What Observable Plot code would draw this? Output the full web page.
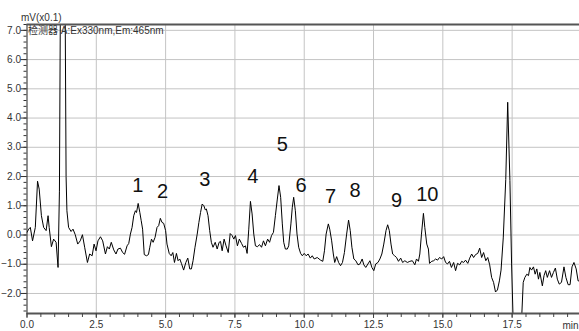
<!DOCTYPE html>
<html>
<head>
<meta charset="utf-8">
<script src="https://cdn.jsdelivr.net/npm/d3@7"></script>
<script src="https://cdn.jsdelivr.net/npm/@observablehq/plot@0.6"></script>
<style>
  html, body { margin: 0; padding: 0; background: white; overflow: hidden; }
  #chart svg { display: block; }
</style>
</head>
<body>
<div id="chart"></div>
<script>
// retention time (min)
const time = [
  0.00,0.06,0.12,0.20,0.30,0.38,0.44,0.52,0.60,0.69,0.76,0.80,0.88,0.96,1.05,1.12,1.17,1.20,1.22,1.29,
  1.37,1.38,1.41,1.44,1.50,1.59,1.66,1.74,1.83,1.92,2.00,2.08,2.18,2.26,2.35,2.42,2.49,2.56,2.65,2.73,
  2.83,2.90,2.97,3.04,3.13,3.21,3.28,3.37,3.45,3.52,3.61,3.67,3.73,3.79,3.85,3.91,3.95,4.01,4.07,4.12,
  4.17,4.23,4.31,4.38,4.43,4.49,4.55,4.62,4.69,4.75,4.81,4.87,4.93,5.00,5.05,5.13,5.20,5.26,5.32,5.39,
  5.45,5.51,5.57,5.65,5.73,5.80,5.87,5.93,5.99,6.06,6.14,6.20,6.26,6.32,6.38,6.43,6.47,6.53,6.59,6.65,
  6.71,6.79,6.86,6.93,6.98,7.04,7.11,7.18,7.26,7.33,7.40,7.46,7.52,7.59,7.66,7.74,7.81,7.88,7.94,8.00,
  8.06,8.12,8.18,8.24,8.31,8.39,8.46,8.53,8.60,8.68,8.75,8.82,8.89,8.96,9.03,9.09,9.15,9.21,9.26,9.32,
  9.39,9.44,9.52,9.57,9.62,9.68,9.74,9.80,9.87,9.93,10.00,10.07,10.14,10.22,10.29,10.36,10.47,10.59,10.67,10.73,
  10.79,10.87,10.92,10.99,11.05,11.10,11.17,11.24,11.31,11.38,11.45,11.53,11.60,11.66,11.72,11.79,11.86,11.94,12.01,12.09,
  12.15,12.22,12.30,12.37,12.44,12.51,12.58,12.66,12.73,12.80,12.87,12.95,13.01,13.07,13.13,13.19,13.26,13.33,13.40,13.48,
  13.55,13.63,13.72,13.81,13.90,13.99,14.05,14.12,14.17,14.23,14.30,14.35,14.42,14.48,14.52,14.60,14.67,14.74,14.81,14.88,
  14.96,15.03,15.10,15.17,15.24,15.31,15.39,15.46,15.53,15.61,15.68,15.75,15.82,15.90,15.97,16.04,16.11,16.18,16.26,16.33,
  16.40,16.47,16.55,16.62,16.69,16.76,16.83,16.90,16.97,17.04,17.10,17.18,17.27,17.34,17.42,17.48,17.53,17.60,17.80,17.85,
  17.90,17.96,18.03,18.09,18.14,18.20,18.27,18.33,18.39,18.45,18.50,18.59,18.65,18.71,18.77,18.85,18.92,18.99,19.06,19.13,
  19.20,19.28,19.37,19.44,19.52,19.59,19.66,19.73,19.81,19.88,19.94
];
// detector signal, mV (x0.1)
const signal = [
  0.09,0.20,0.26,-0.20,0.26,1.84,1.57,0.66,0.26,0.15,0.66,0.26,-0.40,-0.14,-0.25,-1.11,1.50,7.20,12.0,14.0,
  12.0,7.20,2.00,0.83,0.26,0.12,0.20,0.01,-0.31,-0.20,0.01,-0.42,-0.94,-0.65,-0.71,-0.31,-0.54,-0.20,-0.06,-0.20,
  -0.65,-0.40,-0.48,-0.25,-0.51,-0.65,-0.48,-0.45,-0.60,-0.66,-0.37,-0.29,0.03,0.26,0.66,0.83,0.77,1.08,0.77,0.49,
  0.20,-0.67,-0.71,-0.67,-0.42,-0.14,-0.25,-0.08,0.26,0.32,0.57,0.43,0.40,0.15,-0.31,-0.63,-0.71,-0.60,-0.94,-0.63,
  -0.88,-0.82,-0.97,-1.20,-0.94,-0.79,-1.16,-1.16,-0.88,-0.42,0.03,0.43,0.77,1.06,1.00,0.86,0.89,0.66,0.15,-0.25,
  -0.42,-0.25,-0.48,-0.25,-0.22,-0.54,-0.14,-0.37,-0.60,0.05,-0.02,-0.14,-0.02,-0.37,-0.14,-0.29,-0.42,-0.37,-0.63,0.20,
  1.15,0.72,0.03,-0.37,-0.40,-0.33,-0.42,-0.20,-0.37,-0.14,-0.25,-0.02,0.09,0.66,1.23,1.69,1.29,0.38,-0.25,-0.48,
  -0.48,-0.37,0.38,0.95,1.29,0.83,0.03,-0.42,-0.63,-0.71,-0.63,-0.71,-0.65,-0.79,-0.71,-0.82,-0.77,-0.86,-0.90,-0.54,
  0.03,0.38,0.20,-0.20,-0.65,-0.94,-0.74,-0.94,-1.05,-0.94,-0.60,0.03,0.51,0.15,-0.42,-0.82,-0.88,-1.02,-0.99,-0.82,
  -1.02,-1.11,-0.99,-0.88,-1.11,-1.22,-0.99,-0.94,-0.82,-0.65,-0.31,0.15,0.35,0.15,-0.31,-0.65,-0.71,-0.77,-0.90,-0.79,
  -0.94,-0.88,-0.94,-0.90,-0.88,-1.02,-0.82,-0.90,-0.65,0.03,0.74,0.26,-0.31,-0.48,-0.97,-0.90,-0.88,-0.82,-0.86,-0.77,
  -0.82,-0.74,-0.94,-0.99,-0.90,-1.11,-0.94,-1.22,-0.97,-1.02,-0.90,-0.94,-0.86,-0.97,-0.79,-0.65,-0.77,-0.67,-0.63,-0.45,
  -0.77,-0.60,-0.88,-0.77,-1.02,-1.45,-1.62,-1.95,-1.88,-1.57,-1.20,-0.10,1.90,4.54,1.86,-0.99,-2.70,-4.50,-4.50,-2.70,
  -1.62,-1.45,-1.34,-1.39,-1.11,-1.20,-1.09,-1.34,-1.16,-1.51,-1.28,-1.74,-1.39,-1.22,-1.45,-1.22,-1.45,-1.28,-1.13,-1.51,
  -1.68,-1.62,-1.09,-1.45,-1.70,-1.70,-1.09,-0.94,-1.16,-1.57,-1.57
];
// peak annotations
const peakLabels = ["1","2","3","4","5","6","7","8","9","10"];
const peakX = [4.00, 4.89, 6.41, 8.15, 9.21, 9.89, 10.95, 11.83, 13.33, 14.44];
const peakY = [1.70, 1.50, 1.90, 2.01, 3.08, 1.69, 1.30, 1.51, 1.16, 1.37];
// axis ticks
const xTicks = [0, 2.5, 5.0, 7.5, 10.0, 12.5, 15.0, 17.5];
const xMinorTicks = d3.range(0, 20.01, 0.5).map(v => +v.toFixed(1));
const yTicks = [-2, -1, 0, 1, 2, 3, 4, 5, 6, 7];
const yMinorTicks = d3.range(-2.6, 7.21, 0.2).map(v => +v.toFixed(1));
const yUnit = "mV(x0.1)";
const detectorLabel = "检测器 A:Ex330nm,Em:465nm";
const xEndLabel = "min";

const trace = time.map((t, i) => ({t, v: signal[i]}));
const peaks = peakLabels.map((l, i) => ({l, x: peakX[i], y: peakY[i]}));

const font = "'Liberation Sans', Arial, 'Noto Sans CJK SC', sans-serif";
const yMin = -2.685, yMax = 7.2, xMax = 19.93;

const chart = Plot.plot({
  width: 579,
  height: 331,
  marginLeft: 26.5,
  marginRight: 0,
  marginTop: 24,
  marginBottom: 18,
  style: {fontFamily: font, fontSize: "10px", background: "white", color: "#333"},
  x: {domain: [0, xMax], axis: null},
  y: {domain: [yMin, yMax], axis: null},
  marks: [
    Plot.gridX(xTicks.filter(d => d > 0), {stroke: "#c4c4c4", strokeOpacity: 1, strokeWidth: 1}),
    Plot.gridY(yTicks, {stroke: "#c4c4c4", strokeOpacity: 1, strokeWidth: 1}),
    Plot.line(trace, {x: "t", y: "v", stroke: "#000", strokeWidth: 1, clip: true}),
    Plot.ruleX([0], {stroke: "#222", strokeWidth: 1}),
    Plot.ruleY([yMax], {stroke: "#555", strokeWidth: 2}),
    Plot.ruleY([yMin], {stroke: "#555", strokeWidth: 2}),
    Plot.axisY({ticks: yTicks, tickFormat: d3.format(".1f"), tickSize: 6, tickPadding: 0, stroke: "#333", fill: "#333", label: null}),
    Plot.axisY({ticks: yMinorTicks, tickSize: 3, text: null, stroke: "#333", label: null}),
    Plot.axisX({ticks: xMinorTicks, tickSize: 4, text: null, stroke: "#444", label: null}),
    Plot.axisX({ticks: xTicks, tickFormat: d3.format(".1f"), tickSize: 5, tickPadding: 2, stroke: "#444", fill: "#333", label: null}),
    Plot.text([xEndLabel], {x: xMax, y: yMin, dx: -1, dy: 8, fill: "#333", lineAnchor: "top", textAnchor: "end"}),
    Plot.text([yUnit], {frameAnchor: "top-left", dx: -6, dy: -7, textAnchor: "start", lineAnchor: "middle", fill: "#333", fontSize: 10, letterSpacing: "-0.4px"}),
    Plot.text([detectorLabel], {frameAnchor: "top-left", dx: 1, dy: 6, textAnchor: "start", lineAnchor: "middle", fill: "#333", fontSize: 10, letterSpacing: "-0.9px"}),
    Plot.text(peaks, {x: "x", y: "y", text: "l", fontSize: 20, fill: "#111", lineAnchor: "middle"})
  ]
});
document.getElementById("chart").append(chart);
</script>
</body>
</html>
